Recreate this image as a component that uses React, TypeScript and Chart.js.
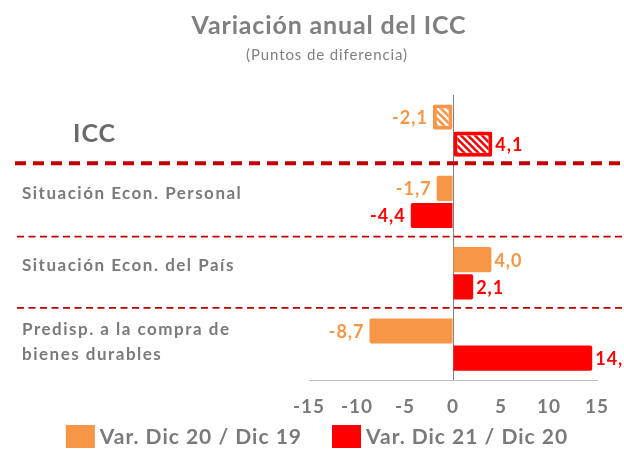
import { useEffect, useRef } from 'react';
import { Chart, registerables } from 'chart.js';

Chart.register(...registerables);

const categories: (string | string[])[] = [
  'ICC',
  'Situación Econ. Personal',
  'Situación Econ. del País',
  ['Predisp. a la compra de', 'bienes durables'],
];
const seriesLabels = ['Var. Dic 20 / Dic 19', 'Var. Dic 21 / Dic 20'];
const varDic20 = [-2.1, -1.7, 4.0, -8.7];
const varDic21 = [4.1, -4.4, 2.1, 14.5];
const xTicks = [-15, -10, -5, 0, 5, 10, 15];
const seriesColors = ['#F79646', '#FF0000'];
const titleText = 'Variación anual del ICC';
const subtitleText = '(Puntos de diferencia)';

const FONT = 'Lato, "Open Sans", sans-serif';
const GRAY = '#7a7a7a';

function makeHatch(color: string): CanvasPattern | string {
  const s = 7;
  const c = document.createElement('canvas');
  c.width = s;
  c.height = s;
  const g = c.getContext('2d');
  if (!g) return color;
  g.fillStyle = color;
  g.fillRect(0, 0, s, s);
  g.strokeStyle = '#ffffff';
  g.lineWidth = 2.4;
  g.beginPath();
  g.moveTo(0, 0);
  g.lineTo(s, s);
  g.moveTo(-2, s - 2);
  g.lineTo(2, s + 2);
  g.moveTo(s - 2, -2);
  g.lineTo(s + 2, 2);
  g.stroke();
  const p = g.createPattern(c, 'repeat');
  return p || color;
}

const fmt = (v: number) => v.toFixed(1).replace('.', ',');

const setLS = (ctx: any, v: string) => {
  if ('letterSpacing' in ctx) ctx.letterSpacing = v;
};

const spacingPlugin = {
  id: 'spacing',
  beforeDraw(chart: any) {
    setLS(chart.ctx, '1px');
  },
};

const decorPlugin = {
  id: 'decor',
  afterDraw(chart: any) {
    const { ctx, scales } = chart;
    const y = scales.y;
    const width = chart.width;
    ctx.save();
    // title + subtitle
    ctx.textAlign = 'center';
    ctx.textBaseline = 'middle';
    ctx.fillStyle = '#7f7f7f';
    setLS(ctx, '0.85px');
    ctx.font = `bold 25px ${FONT}`;
    ctx.fillText(titleText, 329, 26);
    setLS(ctx, '0.9px');
    ctx.font = `15px ${FONT}`;
    ctx.fillText(subtitleText, 327, 55);

    // dashed separators
    for (let i = 0; i < categories.length - 1; i++) {
      const yy = (y.getPixelForValue(i) + y.getPixelForValue(i + 1)) / 2;
      ctx.beginPath();
      ctx.strokeStyle = '#C00000';
      if (i === 0) {
        ctx.lineWidth = 4;
        ctx.setLineDash([11, 7]);
        ctx.moveTo(15, yy - 3);
        ctx.lineTo(width, yy - 3);
      } else {
        ctx.lineWidth = 1.8;
        ctx.setLineDash([7, 4.5]);
        ctx.moveTo(17, yy - 1);
        ctx.lineTo(width, yy - 1);
      }
      ctx.stroke();
    }
    ctx.setLineDash([]);

    // category labels
    categories.forEach((cat, i) => {
      const cy = y.getPixelForValue(i);
      ctx.fillStyle = GRAY;
      ctx.textBaseline = 'middle';
      if (i === 0) {
        setLS(ctx, '1px');
        ctx.font = `bold 25px ${FONT}`;
        ctx.fillStyle = '#6a6a6a';
        ctx.textAlign = 'left';
        ctx.fillText(cat as string, 73, cy + 3);
        return;
      }
      setLS(ctx, '1.5px');
      ctx.font = `bold 17px ${FONT}`;
      ctx.textAlign = 'left';
      if (Array.isArray(cat)) {
        const lh = 25;
        cat.forEach((line, k) => {
          ctx.fillText(line, 22, cy - 3 + (k - (cat.length - 1) / 2) * lh);
        });
      } else {
        ctx.fillText(cat, 22, cy - 8);
      }
    });

    // value labels
    setLS(ctx, '1px');
    chart.data.datasets.forEach((ds: any, di: number) => {
      const meta = chart.getDatasetMeta(di);
      meta.data.forEach((el: any, idx: number) => {
        const v = ds.data[idx] as number;
        ctx.font = `bold 18px ${FONT}`;
        ctx.fillStyle = seriesColors[di];
        ctx.textBaseline = 'middle';
        if (v < 0) {
          ctx.textAlign = 'right';
          ctx.fillText(fmt(v), el.x - 5, el.y + 1);
        } else {
          ctx.textAlign = 'left';
          ctx.fillText(fmt(v), el.x + 3, el.y + 1);
        }
      });
    });

    // legend
    setLS(ctx, '1px');
    ctx.font = `bold 21px ${FONT}`;
    const box = 29;
    const boxH = 23;
    const gapBoxText = 5;
    const itemGap = 30;
    const widths = seriesLabels.map((t) => box + gapBoxText + ctx.measureText(t).width);
    const total = widths.reduce((a, b) => a + b, 0) + itemGap * (widths.length - 1);
    let x = width / 2 + 5 - total / 2;
    const ly = 436.5;
    seriesLabels.forEach((t, i) => {
      ctx.fillStyle = seriesColors[i];
      ctx.fillRect(x, ly - boxH / 2, box, boxH);
      ctx.fillStyle = GRAY;
      ctx.textAlign = 'left';
      ctx.textBaseline = 'middle';
      ctx.fillText(t, x + box + gapBoxText, ly + 1);
      x += widths[i] + itemGap;
    });
    ctx.restore();
  },
};

export default function App() {
  const ref = useRef<HTMLCanvasElement | null>(null);
  useEffect(() => {
    if (!ref.current) return;
    const hatches = seriesColors.map((c) => makeHatch(c));
    const mkDs = (label: string, data: number[], i: number) => ({
      label,
      data,
      backgroundColor: (c: any) => (c.dataIndex === 0 ? hatches[i] : seriesColors[i]),
      borderColor: seriesColors[i],
      borderWidth: (c: any) => (c.dataIndex === 0 ? 4 : 0),
      borderSkipped: (c: any) => (c.dataIndex === 0 ? false : 'start'),
      borderRadius: 2,
      categoryPercentage: 0.76,
      barPercentage: 0.93,
    });
    const chart = new Chart(ref.current, {
      type: 'bar',
      data: {
        labels: categories as any,
        datasets: [mkDs(seriesLabels[0], varDic20, 0), mkDs(seriesLabels[1], varDic21, 1)] as any,
      },
      options: {
        indexAxis: 'y',
        animation: false,
        responsive: true,
        maintainAspectRatio: false,
        layout: { padding: { left: 309, right: 27, top: 95, bottom: 17 } },
        plugins: {
          legend: { display: false },
          tooltip: { enabled: false },
          title: { display: false },
        },
        scales: {
          x: {
            min: -15,
            max: 15,
            afterBuildTicks: (axis: any) => {
              axis.ticks = xTicks.map((v) => ({ value: v }));
            },
            grid: {
              drawTicks: false,
              color: (c: any) => (c.tick && c.tick.value === 0 ? '#7f7f7f' : 'rgba(0,0,0,0)'),
            },
            border: { display: true, color: '#bfbfbf', width: 1 },
            ticks: {
              color: GRAY,
              font: { family: FONT, size: 19, weight: 'bold' },
              padding: 15,
              maxRotation: 0,
            },
          },
          y: {
            display: false,
          },
        },
      },
      plugins: [spacingPlugin, decorPlugin],
    });
    return () => chart.destroy();
  }, []);
  return (
    <div style={{ position: 'absolute', left: 0, top: 0, width: 624, height: 450 }}>
      <canvas ref={ref} />
    </div>
  );
}
